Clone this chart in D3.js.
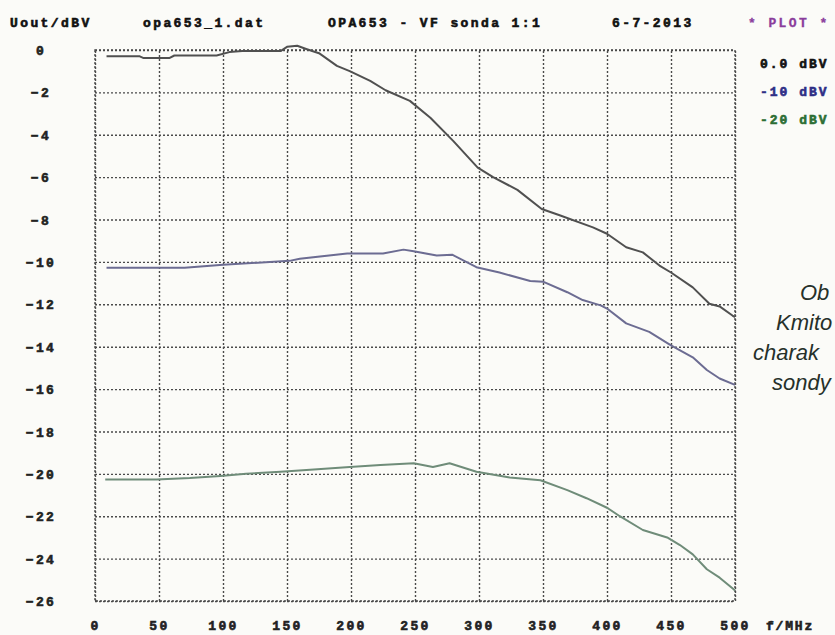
<!DOCTYPE html>
<html>
<head>
<meta charset="utf-8">
<script src="https://cdn.jsdelivr.net/npm/d3@7"></script>
<style>
  html, body { margin: 0; padding: 0; background: #fbfbf8; }
  svg { display: block; }
  .mono { font-family: "Liberation Mono", "DejaVu Sans Mono", monospace; font-weight: bold; font-size: 13px; letter-spacing: 2.4px; stroke-width: 0.6px; }
</style>
</head>
<body>
<svg id="chart" width="835" height="635"></svg>
<script>
// ---- data ----
const xTicks = [0, 50, 100, 150, 200, 250, 300, 350, 400, 450, 500];
const yTicks = [0, -2, -4, -6, -8, -10, -12, -14, -16, -18, -20, -22, -24, -26];

const freq0 = [9, 35, 38, 58, 62, 95, 105, 115, 145, 150, 158, 165, 175, 189, 199, 215, 227, 246, 262, 280, 299, 311, 330, 349, 363, 389, 400, 415, 428, 441, 450, 467, 480, 488, 498, 500];
const level0 = [-0.3, -0.3, -0.38, -0.38, -0.26, -0.26, -0.1, -0.05, -0.05, 0.15, 0.2, 0.05, -0.15, -0.75, -1.0, -1.46, -1.9, -2.4, -3.2, -4.3, -5.55, -6.0, -6.6, -7.5, -7.8, -8.37, -8.67, -9.31, -9.55, -10.17, -10.5, -11.2, -11.97, -12.1, -12.53, -12.6];

const freq10 = [9, 70, 100, 152, 160, 197, 225, 241, 249, 267, 279, 298, 316, 340, 350, 369, 381, 395, 400, 415, 433, 450, 467, 478, 488, 500];
const level10 = [-10.27, -10.27, -10.13, -9.95, -9.85, -9.6, -9.6, -9.42, -9.5, -9.7, -9.66, -10.25, -10.5, -10.9, -10.93, -11.43, -11.8, -12.05, -12.2, -12.9, -13.3, -13.94, -14.5, -15.1, -15.5, -15.8];

const freq20 = [8, 48, 74, 98, 118, 145, 171, 199, 223, 249, 264, 277, 298, 324, 348, 369, 384, 400, 410, 428, 447, 457, 467, 478, 488, 498, 500];
const level20 = [-20.27, -20.27, -20.2, -20.1, -20.0, -19.9, -19.8, -19.68, -19.58, -19.5, -19.68, -19.5, -19.9, -20.17, -20.3, -20.77, -21.15, -21.6, -22.0, -22.65, -23.0, -23.36, -23.8, -24.5, -24.9, -25.4, -25.5];

const seriesNames = ["0.0 dBV", "-10 dBV", "-20 dBV"];
const headerTexts = ["Uout/dBV", "opa653_1.dat", "OPA653 - VF sonda 1:1", "6-7-2013"];
const captionLines = ["Ob", "Kmito", "charak", "sondy"];

// ---- layout ----
const svg = d3.select("#chart");
const x = d3.scaleLinear().domain([0, 500]).range([95, 735]);
const y = d3.scaleLinear().domain([0, -26]).range([50, 601]);

svg.append("rect").attr("width", 835).attr("height", 635).attr("fill", "#fbfbf8");

const gridColor = "#4a4a4a";
// vertical grid
const gx = svg.append("g").attr("transform", `translate(0,${y(-26)})`)
  .call(d3.axisBottom(x).tickValues(xTicks).tickSize(-(y(-26) - y(0))).tickFormat(""));
gx.select(".domain").remove();
// horizontal grid
const gy = svg.append("g").attr("transform", `translate(${x(0)},0)`)
  .call(d3.axisLeft(y).tickValues(yTicks).tickSize(-(x(500) - x(0))).tickFormat(""));
gy.select(".domain").remove();
svg.selectAll(".tick line")
  .attr("stroke", gridColor).attr("stroke-width", 1.4).attr("stroke-dasharray", "2,2");

// border
svg.append("rect").attr("x", x(0)).attr("y", y(0))
  .attr("width", x(500) - x(0)).attr("height", y(-26) - y(0))
  .attr("fill", "none").attr("stroke", gridColor).attr("stroke-width", 1.4).attr("stroke-dasharray", "2,2");

// tick labels via axes
const yLab = svg.append("g").attr("transform", `translate(${x(0)},0)`)
  .call(d3.axisLeft(y).tickValues(yTicks).tickSize(0).tickFormat(d => d3.format("d")(d)));
yLab.select(".domain").remove();
yLab.selectAll("text").attr("class", "mono").attr("x", -54).attr("text-anchor", "middle")
  .attr("fill", "#222").attr("stroke", "#222").attr("dy", "0.35em");

const xLab = svg.append("g").attr("transform", `translate(0,${y(-26)})`)
  .call(d3.axisBottom(x).tickValues(xTicks).tickSize(0).tickFormat(d => String(d)));
xLab.select(".domain").remove();
xLab.selectAll("text").attr("class", "mono").attr("y", 29).attr("dy", 0)
  .attr("text-anchor", "middle").attr("fill", "#222").attr("stroke", "#222");

svg.append("text").attr("class", "mono").attr("x", 766).attr("y", 630)
  .attr("fill", "#222").attr("stroke", "#222").style("letter-spacing", "1.8px").text("f/MHz");

// header
const headerX = [10, 143, 328, 612];
svg.selectAll(".hdr").data(headerTexts).join("text")
  .attr("class", "mono hdr").attr("x", (d, i) => headerX[i]).attr("y", 27)
  .attr("fill", "#111").attr("stroke", "#111").text(d => d);
svg.append("text").attr("class", "mono").attr("x", 748).attr("y", 27)
  .attr("fill", "#8a3d9c").attr("stroke", "#8a3d9c").style("stroke-width", "0.3px").text("* PLOT *");

// curves
const colors = ["#505050", "#6c6c92", "#6f8c79"];
const legendColors = ["#111111", "#2e2e86", "#2c6e34"];
const series = [
  freq0.map((f, i) => [f, level0[i]]),
  freq10.map((f, i) => [f, level10[i]]),
  freq20.map((f, i) => [f, level20[i]])
];
const line = d3.line().x(d => x(d[0])).y(d => y(d[1]));
svg.selectAll(".curve").data(series).join("path")
  .attr("class", "curve").attr("d", line).attr("fill", "none")
  .attr("stroke", (d, i) => colors[i]).attr("stroke-width", 2)
  .attr("stroke-linejoin", "round");

// legend
svg.selectAll(".leg").data(seriesNames).join("text")
  .attr("class", "mono leg").attr("x", 760).attr("y", (d, i) => 68 + i * 28)
  .attr("fill", (d, i) => legendColors[i]).attr("stroke", (d, i) => legendColors[i])
  .style("letter-spacing", "2px").text(d => d);

// caption (cut at right edge in original)
const capX = [800, 776, 753, 772];
svg.selectAll(".cap").data(captionLines).join("text")
  .attr("class", "cap").attr("x", (d, i) => capX[i]).attr("y", (d, i) => 300 + i * 30)
  .attr("font-family", "Liberation Sans, Arial, sans-serif").attr("font-style", "italic")
  .attr("font-size", 22).attr("fill", "#26302a").text(d => d);
</script>
</body>
</html>
